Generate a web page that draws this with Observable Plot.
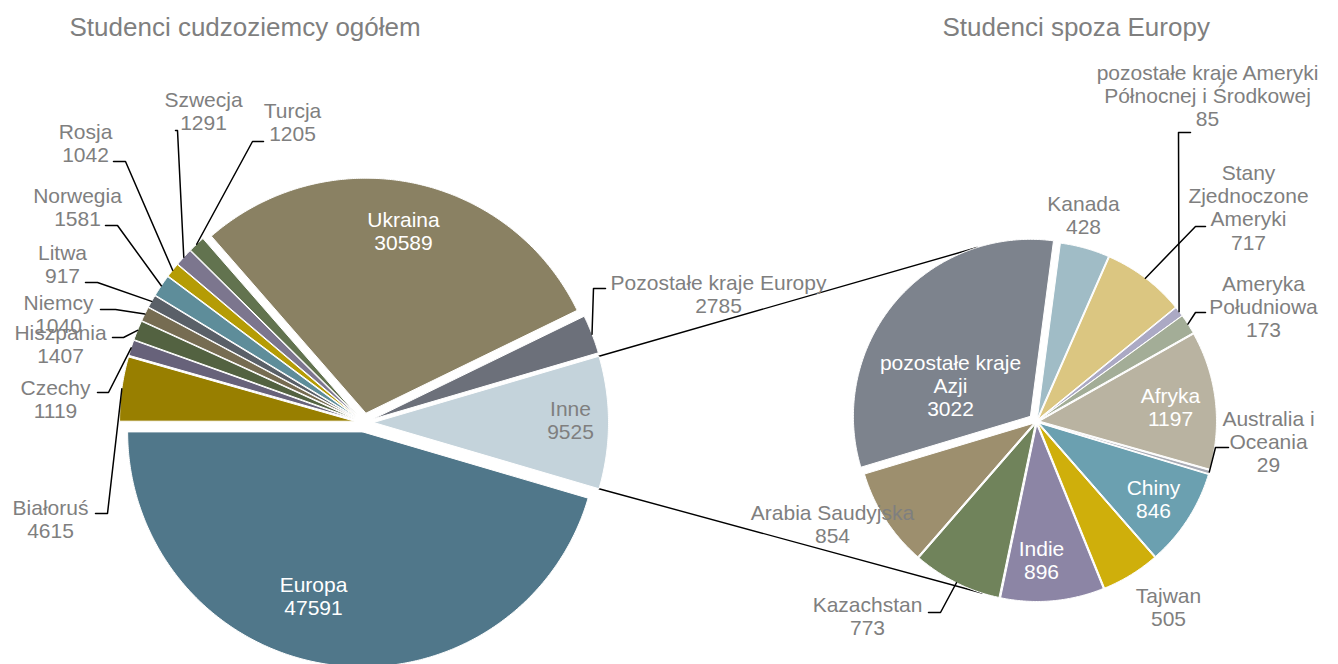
<!DOCTYPE html>
<html>
<head>
<meta charset="utf-8">
<script src="https://cdn.jsdelivr.net/npm/d3@7"></script>
<script src="https://cdn.jsdelivr.net/npm/@observablehq/plot@0.6"></script>
<style>
  body { margin: 0; background: #ffffff; }
  #chart svg { display: block; }
</style>
</head>
<body>
<div id="chart"></div>
<script>
// ---------------- DATA ----------------
const leftTitle = "Studenci cudzoziemcy ogółem";
const rightTitle = "Studenci spoza Europy";

const leftCategories = ["Europa", "Białoruś", "Czechy", "Hiszpania", "Niemcy", "Litwa", "Norwegia",
  "Rosja", "Szwecja", "Turcja", "Ukraina", "Pozostałe kraje Europy", "Inne"];
const leftValues = [47591, 4615, 1119, 1407, 1040, 917, 1581, 1042, 1291, 1205, 30589, 2785, 9525];

const rightCategories = ["Kanada", "Stany Zjednoczone Ameryki", "pozostałe kraje Ameryki Północnej i Środkowej",
  "Ameryka Południowa", "Afryka", "Australia i Oceania", "Chiny", "Tajwan", "Indie", "Kazachstan",
  "Arabia Saudyjska", "pozostałe kraje Azji"];
const rightValues = [428, 717, 85, 173, 1197, 29, 846, 505, 896, 773, 854, 3022];

// label wording (line breaks as in the chart)
const leftLabelNames = ["Europa", "Białoruś", "Czechy", "Hiszpania", "Niemcy", "Litwa", "Norwegia",
  "Rosja", "Szwecja", "Turcja", "Ukraina", "Pozostałe kraje Europy", "Inne"];
const rightLabelNames = ["Kanada", "Stany\nZjednoczone\nAmeryki", "pozostałe kraje Ameryki\nPółnocnej i Środkowej",
  "Ameryka\nPołudniowa", "Afryka", "Australia i\nOceania", "Chiny", "Tajwan", "Indie", "Kazachstan",
  "Arabia Saudyjska", "pozostałe kraje\nAzji"];

// ---------------- STYLE / LAYOUT ----------------
const W = 1338, H = 664;
const GRAY = "#7f7f7f", WHITE = "#ffffff";
const FONT = "'Liberation Sans', Arial, Helvetica, sans-serif";

const leftColors = ["#50778a", "#987f00", "#67627a", "#536241", "#766c52", "#5a6068", "#5e8d9a",
  "#b59c05", "#7c768e", "#62734f", "#8a8163", "#6c707a", "#c4d3db"];
const rightColors = ["#a0bcc6", "#dbc681", "#aba9c4", "#a3ad97", "#b9b3a1", "#a8abb5", "#6ba0b0",
  "#cfaf0b", "#8c85a5", "#70835b", "#9d8f6e", "#7d838d"];

const leftPie = {cx: 363.5, cy: 422, r: 235,
  explode: [9.5, 9.5, 9.5, 9.5, 9.5, 9.5, 9.5, 9.5, 9.5, 9.5, 9.5, 9.5, 9.5]};
const rightPie = {cx: 1036, cy: 421, r: 177, rotation: 7.5,
  explode: [3, 3, 3, 3, 3, 3, 3, 3, 3, 3, 3, 8]};

// label placement: [x, y (block centre), colour, leader elbow points or null]
const leftLabelLayout = [
  [313, 596, WHITE, null],
  [50, 519, GRAY, [[95, 513], [107, 513]]],
  [55, 399, GRAY, [[97, 392], [108, 392]]],
  [60, 343.5, GRAY, [[112, 337], [123, 337]]],
  [58, 314, GRAY, [[100, 309], [115, 309]]],
  [62, 263.5, GRAY, [[85, 282], [97, 282]]],
  [77, 206.5, GRAY, [[105, 225], [117, 225]]],
  [85, 142.5, GRAY, [[113, 161], [125, 161]]],
  [203, 110.5, GRAY, [[175, 130], [177, 130]]],
  [292, 122, GRAY, [[263, 141], [252, 141]]],
  [403, 231, WHITE, null],
  [718, 293.5, GRAY, [[605, 288], [593, 288]]],
  [570, 420, GRAY, null]
];
const rightLabelLayout = [
  [1083, 215, GRAY, null],
  [1248, 207, GRAY, [[1205, 226], [1195, 226]]],
  [1207, 95.5, GRAY, [[1190, 132], [1178, 132]]],
  [1263, 306, GRAY, [[1205, 312], [1195, 312]]],
  [1170, 406.5, WHITE, null],
  [1268, 441, GRAY, [[1228, 447], [1215, 447]]],
  [1153, 498.5, WHITE, null],
  [1168, 606.5, GRAY, null],
  [1041, 559.5, WHITE, null],
  [867, 615.5, GRAY, [[928, 612], [940, 612]]],
  [832, 523.5, GRAY, null],
  [950, 385, WHITE, null]
];

// ---------------- GEOMETRY from values ----------------
const rad = d => d * Math.PI / 180;
const pt = (cx, cy, r, deg) => [cx + r * Math.sin(rad(deg)), cy - r * Math.cos(rad(deg))];

function pieAngles(values, rot) {
  const total = d3.sum(values);
  let acc = 0;
  return values.map(v => {
    const a0 = rot + acc / total * 360;
    acc += v;
    const a1 = rot + acc / total * 360;
    return {a0, a1, mid: (a0 + a1) / 2};
  });
}

// Excel pie-of-pie: split slice ("Inne") centred at 3 o'clock
const leftTotal = d3.sum(leftValues);
const lastIdx = leftValues.length - 1;
const leftRot = 90 - (leftTotal - leftValues[lastIdx] / 2) / leftTotal * 360;
const leftAngles = pieAngles(leftValues, leftRot);
const rightAngles = pieAngles(rightValues, rightPie.rotation);

function sliceRows(prefix, names, angles, colors, g) {
  const rows = [];
  angles.forEach((a, i) => {
    const e = g.explode[i];
    const [ox, oy] = pt(0, 0, e, a.mid);
    const cx = g.cx + ox, cy = g.cy + oy;
    const key = prefix + i;
    rows.push({key, color: colors[i], x: cx, y: cy});
    const n = Math.max(2, Math.ceil((a.a1 - a.a0) / 0.5) + 1);
    for (let k = 0; k < n; k++) {
      const d = a.a0 + (a.a1 - a.a0) * k / (n - 1);
      const [x, y] = pt(cx, cy, g.r, d);
      rows.push({key, color: colors[i], x, y});
    }
    rows.push({key, color: colors[i], x: cx, y: cy});
  });
  return rows;
}

function labelRows(names, values, angles, layout, g, prefix) {
  const texts = [], leaders = [];
  names.forEach((nm, i) => {
    const [x, y, fill, elbow] = layout[i];
    texts.push({x, y, text: nm + "\n" + values[i], fill});
    if (elbow) {
      const [ax, ay] = pt(g.cx, g.cy, g.r + g.explode[i], angles[i].mid);
      elbow.forEach(([ex, ey]) => leaders.push({key: prefix + i, x: ex, y: ey}));
      leaders.push({key: prefix + i, x: ax, y: ay});
    }
  });
  return {texts, leaders};
}

function pointOnPie(angles, g, deg) {
  const norm = d => ((d % 360) + 360) % 360;
  let idx = angles.findIndex(a => {
    const s = norm(a.a0), span = a.a1 - a.a0;
    return norm(deg - s) <= span;
  });
  if (idx < 0) idx = 0;
  const [ox, oy] = pt(0, 0, g.explode[idx], angles[idx].mid);
  return pt(g.cx + ox, g.cy + oy, g.r, deg);
}

const slices = [
  ...sliceRows("L", leftCategories, leftAngles, leftColors, leftPie),
  ...sliceRows("R", rightCategories, rightAngles, rightColors, rightPie)
];
const L = labelRows(leftLabelNames, leftValues, leftAngles, leftLabelLayout, leftPie, "L");
const R = labelRows(rightLabelNames, rightValues, rightAngles, rightLabelLayout, rightPie, "R");

// connector lines from the split slice to the secondary pie
const inne = leftAngles[lastIdx];
const [iox, ioy] = pt(0, 0, leftPie.explode[lastIdx], inne.mid);
const cTop0 = pt(leftPie.cx + iox, leftPie.cy + ioy, leftPie.r, inne.a0);
const cBot0 = pt(leftPie.cx + iox, leftPie.cy + ioy, leftPie.r, inne.a1);
const cTop1 = pointOnPie(rightAngles, rightPie, 342.5);
const cBot1 = pointOnPie(rightAngles, rightPie, 197.5);
const connectors = [
  {key: "top", x: cTop0[0], y: cTop0[1]}, {key: "top", x: cTop1[0], y: cTop1[1]},
  {key: "bot", x: cBot0[0], y: cBot0[1]}, {key: "bot", x: cBot1[0], y: cBot1[1]}
];

const titles = [
  {x: 69, y: 27, text: leftTitle},
  {x: 942, y: 27, text: rightTitle}
];

const chart = Plot.plot({
  width: W,
  height: H,
  margin: 0,
  x: {domain: [0, W], range: [0, W], axis: null},
  y: {domain: [0, H], range: [0, H], axis: null},
  color: {type: "identity"},
  style: {fontFamily: FONT, background: "#ffffff"},
  marks: [
    Plot.line(connectors, {x: "x", y: "y", z: "key", stroke: "#000000", strokeWidth: 1.4}),
    Plot.line(slices, {x: "x", y: "y", z: "key", fill: "color", stroke: "#ffffff",
      strokeWidth: 1, strokeLinejoin: "round", curve: "linear"}),
    Plot.line([...L.leaders, ...R.leaders], {x: "x", y: "y", z: "key", stroke: "#000000",
      strokeWidth: 1.5, curve: "linear"}),
    Plot.text([...L.texts, ...R.texts], {x: "x", y: "y", text: "text", fill: "fill",
      fontSize: 21, lineHeight: 1.1, lineAnchor: "middle", textAnchor: "middle", fontFamily: FONT}),
    Plot.text(titles, {x: "x", y: "y", text: "text", fill: GRAY, fontSize: 26,
      textAnchor: "start", lineAnchor: "middle", fontFamily: FONT})
  ]
});
document.getElementById("chart").appendChild(chart);
</script>
</body>
</html>
